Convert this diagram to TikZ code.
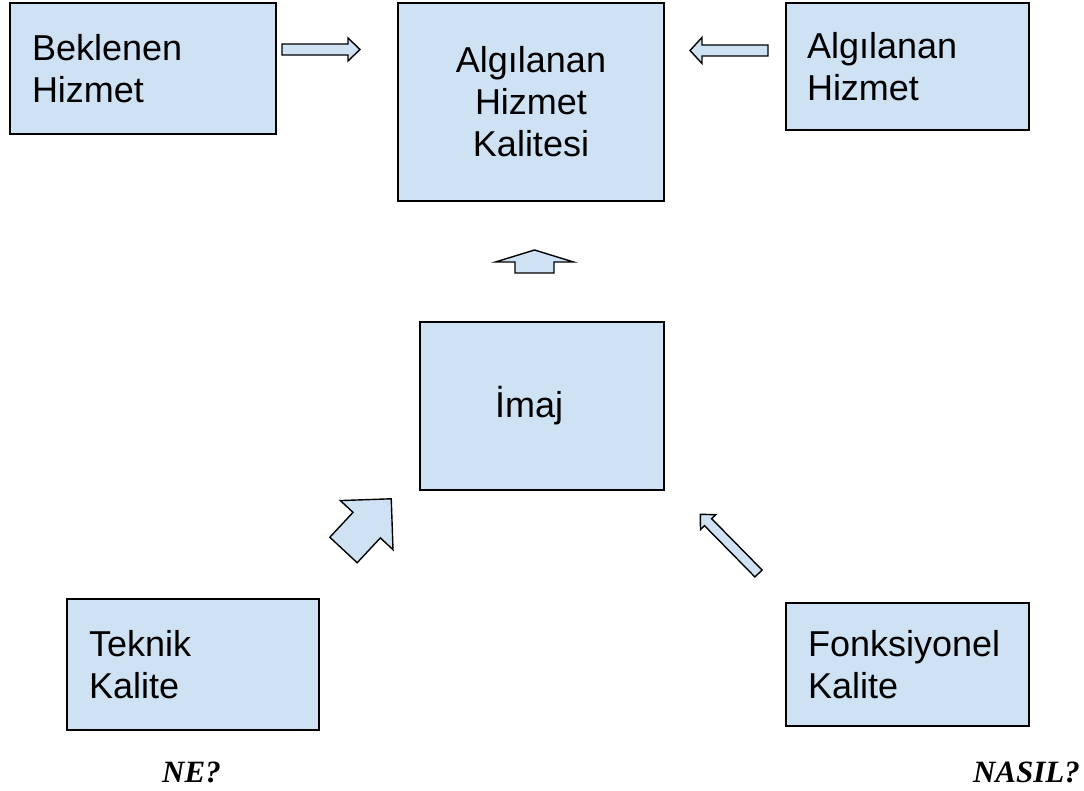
\documentclass[tikz,border=0pt]{standalone}
\usepackage{fontspec}
\setmainfont{Liberation Sans}
\newfontfamily\serifbi{Liberation Serif}
\usepackage{tikz}
\usetikzlibrary{positioning}

\definecolor{boxblue}{HTML}{CFE2F3}

\tikzset{
    box/.style={draw=black, fill=boxblue, line width=1.5pt, align=left,
        font=\fontsize{36}{42}\selectfont},
    arrowshape/.style={draw=black, fill=boxblue, line width=1.4pt, line join=miter},
    question/.style={font=\fontsize{31}{36}\selectfont\serifbi\bfseries\itshape, inner sep=0pt}
}

% start, angle, length, shaft half width, head half width, head length
\newcommand{\blockarrow}[6]{%
    \draw[arrowshape, shift={(#1)}, rotate=#2]
        (0,-#4) -- ({#3-#6},-#4) -- ({#3-#6},-#5) -- (#3,0)
        -- ({#3-#6},#5) -- ({#3-#6},#4) -- (0,#4) -- cycle;}

\begin{document}
\begin{tikzpicture}[x=1pt, y=1pt]
        \useasboundingbox (0,0) rectangle (1084,791);

        \node[box, minimum width=266, minimum height=131, text width=222, inner xsep=22] (expected) at (143,722.5) {Beklenen\\Hizmet};
        \node[box, minimum width=266, minimum height=198, text width=222, inner xsep=22, align=center] (quality) at (531,689) {Algılanan\\Hizmet\\Kalitesi};
        \node[box, minimum width=243, minimum height=127, text width=201, inner xsep=21] (perceived) at (907.5,724.5) {Algılanan\\Hizmet};
        \node[box, minimum width=244, minimum height=168, text width=94, inner xsep=75] (image) at (542,385) {İmaj};
        \node[box, minimum width=252, minimum height=131, text width=208, inner xsep=22] (technical) at (193,126.5) {Teknik\\Kalite};
        \node[box, minimum width=243, minimum height=123, text width=199, inner xsep=22] (functional) at (907.5,126.5) {Fonksiyonel\\Kalite};

        \node[question, anchor=base west] (what) at (162,8) {NE?};
        \node[question, anchor=base east] (how) at (1080,8) {NASIL?};

        \blockarrow{282,741.5}{0}{78}{5.5}{11.5}{12}
        \blockarrow{768,740.5}{180}{78}{5.5}{13}{12}
        \blockarrow{534.5,518}{90}{23}{19.5}{39}{12}
        \blockarrow{343.5,241}{47}{70}{18.7}{36}{36}
        \blockarrow{758.5,217.5}{134.5}{83}{5}{10.6}{11}
\end{tikzpicture}
\end{document}
